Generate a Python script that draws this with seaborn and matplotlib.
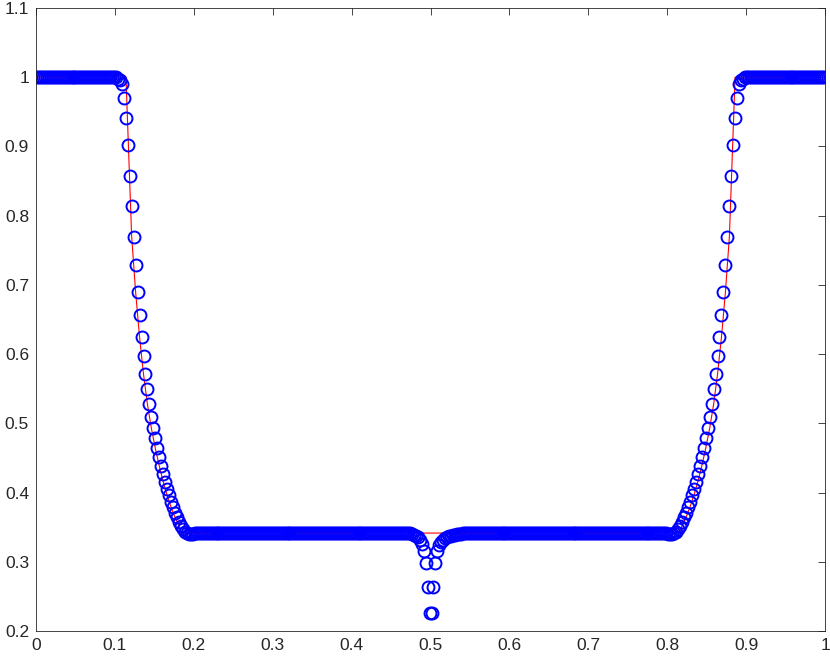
import numpy as np
import pandas as pd
import seaborn as sns
import matplotlib
matplotlib.use("Agg")
import matplotlib.pyplot as plt
from matplotlib.ticker import FuncFormatter, MultipleLocator

# numerical density on 400 cells (cell centres)
n_cells = 400
rho_left_state = 1.0
rho_middle = 0.342

# left rarefaction fan, cells 41..82
rho_fan_left = [0.998, 0.996, 0.990, 0.9705, 0.9416, 0.9026, 0.8578, 0.8140,
                0.7696, 0.7292, 0.6902, 0.6561, 0.6252, 0.5973, 0.5713, 0.5492,
                0.5275, 0.5096, 0.4928, 0.4784, 0.4639, 0.4509, 0.4384, 0.4268,
                0.4157, 0.4056, 0.3960, 0.3868, 0.3787, 0.3709, 0.3643, 0.3579,
                0.3521, 0.3474, 0.3435, 0.3412, 0.3402, 0.3400, 0.3405, 0.3410,
                0.3415, 0.3418]

# dip around x = 0.5, cells 188..219
rho_dip = [0.3415, 0.3410, 0.3403, 0.3393, 0.3378, 0.3355, 0.3320, 0.3260,
           0.3160, 0.2987, 0.2631, 0.2264, 0.2264, 0.2631, 0.2987, 0.3160,
           0.3245, 0.3290, 0.3320, 0.3340, 0.3355, 0.3367, 0.3377, 0.3386,
           0.3393, 0.3399, 0.3404, 0.3408, 0.3411, 0.3414, 0.3416, 0.3418]

# right rarefaction fan, cells 317..358
rho_fan_right = [0.3418, 0.3415, 0.3410, 0.3405, 0.3400, 0.3402, 0.3412, 0.3435,
                 0.3474, 0.3521, 0.3579, 0.3643, 0.3709, 0.3787, 0.3868, 0.3960,
                 0.4056, 0.4157, 0.4268, 0.4384, 0.4509, 0.4639, 0.4784, 0.4928,
                 0.5096, 0.5275, 0.5492, 0.5713, 0.5973, 0.6252, 0.6561, 0.6902,
                 0.7292, 0.7696, 0.8140, 0.8578, 0.9026, 0.9416, 0.9705, 0.990,
                 0.996, 0.998]

rho_num = ([rho_left_state] * 41 + rho_fan_left + [rho_middle] * 105 + rho_dip
           + [rho_middle] * 97 + rho_fan_right + [rho_left_state] * 41)
x_num = (np.arange(n_cells) + 0.5) / n_cells

# exact solution (red line) knots
x_exact = [0.0, 0.1140, 0.1212, 0.1262, 0.1312, 0.1362, 0.1412, 0.1462, 0.1512,
           0.1562, 0.1612, 0.1662, 0.1712, 0.1762, 0.1812, 0.1850,
           0.8150, 0.8188, 0.8238, 0.8288, 0.8338, 0.8388, 0.8438, 0.8488,
           0.8538, 0.8588, 0.8638, 0.8688, 0.8738, 0.8788, 0.8860, 1.0]
rho_exact = [1.0, 1.0, 0.770, 0.690, 0.625, 0.5713, 0.5275, 0.4928, 0.4639,
             0.4384, 0.4157, 0.3960, 0.3787, 0.3643, 0.3521, 0.3415,
             0.3415, 0.3521, 0.3643, 0.3787, 0.3960, 0.4157, 0.4384, 0.4639,
             0.4928, 0.5275, 0.5713, 0.625, 0.690, 0.770, 1.0, 1.0]

df_num = pd.DataFrame({"x": x_num, "rho": rho_num})
df_exact = pd.DataFrame({"x": x_exact, "rho": rho_exact})

sns.set_style("white")
plt.rcParams["font.family"] = ["Liberation Sans", "DejaVu Sans"]
plt.rcParams["axes.edgecolor"] = "#262626"
plt.rcParams["axes.linewidth"] = 0.6

fig = plt.figure(figsize=(8.3, 6.6), dpi=100)
ax = fig.add_axes([0.0434, 0.0439, 0.9506, 0.944])

sns.lineplot(data=df_exact, x="x", y="rho", color="red", linewidth=0.8,
             estimator=None, sort=False, ax=ax, zorder=1)
sns.lineplot(data=df_num, x="x", y="rho", estimator=None, sort=False, ax=ax,
             linestyle="none", marker="o", markersize=8.6, markerfacecolor="none",
             markeredgecolor="blue", markeredgewidth=1.4, zorder=2)

ax.set_xlim(0, 1)
ax.set_ylim(0.2, 1.1)
ax.xaxis.set_major_locator(MultipleLocator(0.1))
ax.yaxis.set_major_locator(MultipleLocator(0.1))
fmt = FuncFormatter(lambda v, p: "%g" % round(v, 2))
ax.xaxis.set_major_formatter(fmt)
ax.yaxis.set_major_formatter(fmt)
ax.set_xlabel("")
ax.set_ylabel("")
ax.tick_params(direction="in", length=5, width=0.6, top=True, right=True,
               labelsize=12.5, colors="#262626", labelcolor="#262626", pad=5)
for s in ax.spines.values():
    s.set_visible(True)

fig.savefig("out.png", dpi=100)
